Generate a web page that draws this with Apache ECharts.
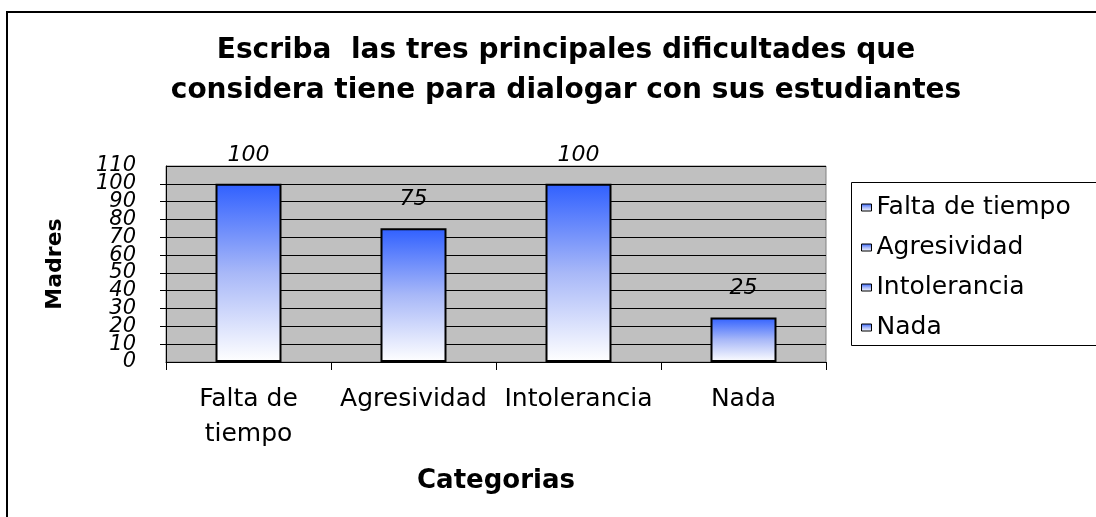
<!DOCTYPE html>
<html>
<head>
<meta charset="utf-8">
<script src="https://cdn.jsdelivr.net/npm/echarts@6/dist/echarts.min.js"></script>
<style>
html,body{margin:0;padding:0;background:#fff;}
#chart{width:1096px;height:517px;}
</style>
</head>
<body>
<div id="chart"></div>
<script>
// Categories and counts
const categories = ['Falta de tiempo', 'Agresividad', 'Intolerancia', 'Nada'];
const axisLabels = ['Falta de\ntiempo', 'Agresividad', 'Intolerancia', 'Nada'];
const values = [100, 75, 100, 25];
const yTicks = [0, 10, 20, 30, 40, 50, 60, 70, 80, 90, 100, 110];

const FONT = '"DejaVu Sans", "Liberation Sans", sans-serif';
const Y_MIN = yTicks[0];
const Y_MAX = yTicks[yTicks.length - 1];

const barFill = new echarts.graphic.LinearGradient(0, 0, 0, 1, [
  { offset: 0, color: '#3060ff' },
  { offset: 0.5, color: '#a8b8f8' },
  { offset: 1, color: '#ffffff' }
]);

// one series per category, overlapped so each bar sits centred on its slot
const series = categories.map((name, i) => ({
  name: name,
  type: 'bar',
  yAxisIndex: 0,
  barWidth: 66,
  barGap: '-100%',
  data: values.map((v, j) => (j === i ? v : null)),
  itemStyle: { color: barFill, borderColor: '#000', borderWidth: 2 },
  label: {
    show: true,
    position: 'top',
    distance: 18,
    fontFamily: FONT,
    fontSize: 22,
    fontStyle: 'italic',
    color: '#000'
  }
}));

const yLabelStyle = { fontFamily: FONT, fontSize: 21, fontStyle: 'italic', color: '#000', margin: 30, hideOverlap: false };

const chart = echarts.init(document.getElementById('chart'), null, { renderer: 'canvas' });
chart.setOption({
  backgroundColor: '#fff',
  animation: false,
  title: {
    text: 'Escriba  las tres principales dificultades que\nconsidera tiene para dialogar con sus estudiantes',
    left: 561,
    top: 26,
    textAlign: 'center',
    textStyle: { fontFamily: FONT, fontSize: 28, fontWeight: 'bold', lineHeight: 40, color: '#000' }
  },
  legend: {
    orient: 'vertical',
    left: 856,
    top: 190,
    itemWidth: 10,
    itemHeight: 7,
    itemGap: 15,
    icon: 'rect',
    textStyle: { fontFamily: FONT, fontSize: 25, color: '#000', lineHeight: 25, padding: [0, 0, 0, 0] },
    itemStyle: { borderColor: '#000', borderWidth: 1 },
    data: categories
  },
  grid: {
    left: 166, right: 270, top: 166, bottom: 155,
    show: true, backgroundColor: '#c0c0c0', borderColor: '#808080', borderWidth: 1
  },
  xAxis: {
    type: 'category',
    data: axisLabels,
    name: 'Categorias',
    nameLocation: 'middle',
    nameGap: 106,
    nameTextStyle: { fontFamily: FONT, fontSize: 26, fontWeight: 'bold', color: '#000' },
    axisLine: { lineStyle: { color: '#000', width: 1 } },
    axisTick: { show: true, length: 8, lineStyle: { color: '#000' } },
    axisLabel: { interval: 0, hideOverlap: false, fontFamily: FONT, fontSize: 25, color: '#000', margin: 20, lineHeight: 35 }
  },
  yAxis: [
    {
      // main value axis: inner tick labels, ticks and gridlines
      type: 'value',
      min: Y_MIN,
      max: Y_MAX,
      interval: 10,
      name: 'Madres',
      nameLocation: 'middle',
      nameGap: 100,
      nameTextStyle: { fontFamily: FONT, fontSize: 22, fontWeight: 'bold', color: '#000' },
      axisLine: { show: true, lineStyle: { color: '#000', width: 1 } },
      axisTick: { show: true, length: 6, lineStyle: { color: '#000' } },
      splitLine: { show: true, lineStyle: { color: '#000', width: 1 } },
      axisLabel: Object.assign({ showMinLabel: false, showMaxLabel: false }, yLabelStyle)
    },
    {
      // same scale, carrying only the end labels (0 and 110)
      type: 'value',
      position: 'left',
      offset: 0,
      min: Y_MIN,
      max: Y_MAX,
      interval: 10,
      axisLine: { show: false },
      axisTick: { show: false },
      splitLine: { show: false },
      axisLabel: Object.assign({
        showMinLabel: true, showMaxLabel: true,
        formatter: v => (v === Y_MIN || v === Y_MAX) ? String(v) : ''
      }, yLabelStyle)
    }
  ],
  graphic: [
    { type: 'rect', shape: { x: 7, y: 12, width: 1200, height: 700 }, style: { fill: 'none', stroke: '#000', lineWidth: 2 }, silent: true, z: 100 },
    { type: 'rect', shape: { x: 851.5, y: 182.5, width: 300, height: 163 }, style: { fill: 'none', stroke: '#000', lineWidth: 1 }, silent: true, z: 100 }
  ],
  series: series
});
</script>
</body>
</html>
